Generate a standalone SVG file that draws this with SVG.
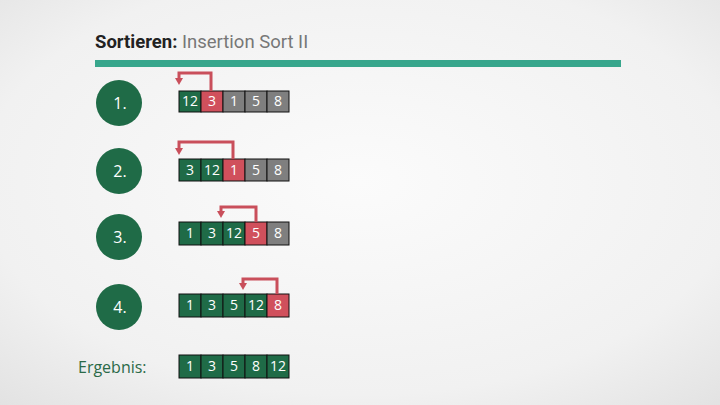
<svg xmlns="http://www.w3.org/2000/svg" width="720" height="405" viewBox="0 0 720 405">
  <defs>
    <radialGradient id="bg" cx="50%" cy="45%" r="75%">
      <stop offset="0" stop-color="#fbfbfb"/>
      <stop offset="0.7" stop-color="#f1f1f1"/>
      <stop offset="1" stop-color="#e2e2e2"/>
    </radialGradient>
    <style>
      .g { fill: #1f6b47; stroke: #111; stroke-width: 1; }
      .r { fill: #d0505c; stroke: #111; stroke-width: 1; }
      .y { fill: #7f7f7f; stroke: #111; stroke-width: 1; }
      .ct { fill: #ffffff; font-family: "Open Sans", "Noto Sans", sans-serif; font-size: 14px; text-anchor: middle; }
      .circ { fill: #1f6b47; }
      .num { fill: #ffffff; font-family: "Open Sans", "Noto Sans", sans-serif; font-size: 16px; text-anchor: middle; }
      .arr { fill: none; stroke: #c94f5b; stroke-width: 3; }
      .head { fill: #c94f5b; }
    </style>
  </defs>
  <rect width="720" height="405" fill="url(#bg)"/>

  <g id="title">
    <text x="95" y="48" font-family="Roboto, 'Liberation Sans', sans-serif" font-size="18.5px"><tspan font-weight="bold" fill="#222">Sortieren:</tspan><tspan fill="#777"> Insertion Sort II</tspan></text>
    <rect x="95" y="60" width="526" height="7" fill="#37a68c"/>
  </g>

  <g id="step1">
    <circle class="circ" cx="119" cy="103" r="23"/>
    <text class="num" x="120" y="109">1.</text>
  </g>
  <g id="step2">
    <circle class="circ" cx="119" cy="171" r="23"/>
    <text class="num" x="120" y="177">2.</text>
  </g>
  <g id="step3">
    <circle class="circ" cx="119" cy="237" r="23"/>
    <text class="num" x="120" y="243">3.</text>
  </g>
  <g id="step4">
    <circle class="circ" cx="119" cy="307" r="23"/>
    <text class="num" x="120" y="313">4.</text>
  </g>
  <g id="ergebnis-label">
    <text x="78" y="373" fill="#2b6a48" font-family="'Open Sans', 'Noto Sans', sans-serif" font-size="16px">Ergebnis:</text>
  </g>

  <g id="row1">
    <rect class="g" x="179" y="91" width="22" height="21"/><text class="ct" x="190" y="106">12</text>
    <rect class="r" x="201" y="91" width="22" height="21"/><text class="ct" x="212" y="106">3</text>
    <rect class="y" x="223" y="91" width="22" height="21"/><text class="ct" x="234" y="106">1</text>
    <rect class="y" x="245" y="91" width="22" height="21"/><text class="ct" x="256" y="106">5</text>
    <rect class="y" x="267" y="91" width="22" height="21"/><text class="ct" x="278" y="106">8</text>
  </g>
  <g id="row2">
    <rect class="g" x="179" y="159" width="22" height="22"/><text class="ct" x="190" y="175">3</text>
    <rect class="g" x="201" y="159" width="22" height="22"/><text class="ct" x="212" y="175">12</text>
    <rect class="r" x="223" y="159" width="22" height="22"/><text class="ct" x="234" y="175">1</text>
    <rect class="y" x="245" y="159" width="22" height="22"/><text class="ct" x="256" y="175">5</text>
    <rect class="y" x="267" y="159" width="22" height="22"/><text class="ct" x="278" y="175">8</text>
  </g>
  <g id="row3">
    <rect class="g" x="179" y="222" width="22" height="23"/><text class="ct" x="190" y="238">1</text>
    <rect class="g" x="201" y="222" width="22" height="23"/><text class="ct" x="212" y="238">3</text>
    <rect class="g" x="223" y="222" width="22" height="23"/><text class="ct" x="234" y="238">12</text>
    <rect class="r" x="245" y="222" width="22" height="23"/><text class="ct" x="256" y="238">5</text>
    <rect class="y" x="267" y="222" width="22" height="23"/><text class="ct" x="278" y="238">8</text>
  </g>
  <g id="row4">
    <rect class="g" x="179" y="294" width="22" height="23"/><text class="ct" x="190" y="310">1</text>
    <rect class="g" x="201" y="294" width="22" height="23"/><text class="ct" x="212" y="310">3</text>
    <rect class="g" x="223" y="294" width="22" height="23"/><text class="ct" x="234" y="310">5</text>
    <rect class="g" x="245" y="294" width="22" height="23"/><text class="ct" x="256" y="310">12</text>
    <rect class="r" x="267" y="294" width="22" height="23"/><text class="ct" x="278" y="310">8</text>
  </g>
  <g id="result">
    <rect class="g" x="179" y="355" width="22" height="23"/><text class="ct" x="190" y="371">1</text>
    <rect class="g" x="201" y="355" width="22" height="23"/><text class="ct" x="212" y="371">3</text>
    <rect class="g" x="223" y="355" width="22" height="23"/><text class="ct" x="234" y="371">5</text>
    <rect class="g" x="245" y="355" width="22" height="23"/><text class="ct" x="256" y="371">8</text>
    <rect class="g" x="267" y="355" width="22" height="23"/><text class="ct" x="278" y="371">12</text>
  </g>

  <g id="connectors">
    <path class="arr" d="M211,91 V73 H179 V79"/>
    <polygon class="head" points="175,78 183,78 179,85"/>
    <path class="arr" d="M233,159 V142 H179 V149"/>
    <polygon class="head" points="175,148 183,148 179,155"/>
    <path class="arr" d="M256,222 V207 H221 V212"/>
    <polygon class="head" points="217,211 225,211 221,218"/>
    <path class="arr" d="M277,294 V279 H243 V284"/>
    <polygon class="head" points="239,283 247,283 243,290"/>
  </g>
</svg>
